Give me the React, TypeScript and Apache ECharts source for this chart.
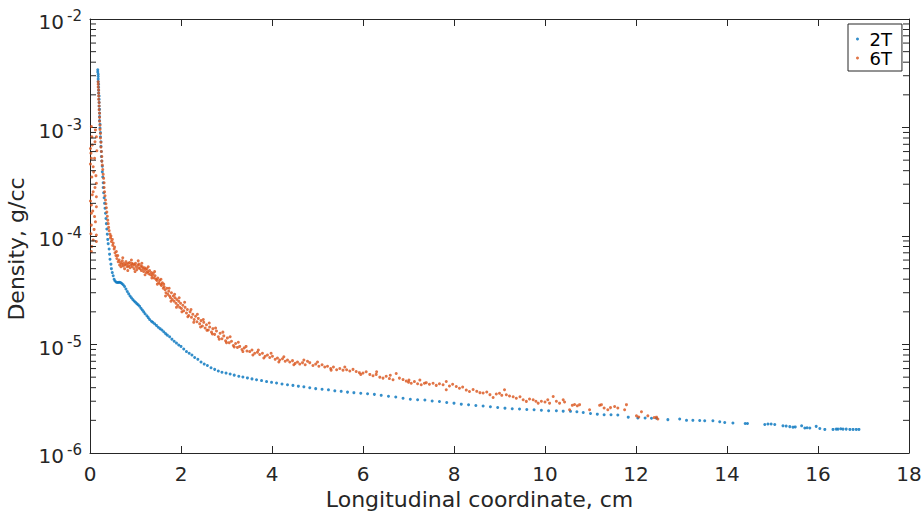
import React, { useEffect, useRef } from "react";
import * as echarts from "echarts";

const seriesNames = ["2T", "6T"];
const seriesColors = ["#0072BD", "#D95319"];
const xTitle = "Longitudinal coordinate, cm";
const yTitle = "Density, g/cc";
const xMin = 0;
const xMax = 18;
const xStep = 2;
const yMin = 1e-6;
const yMax = 1e-2;

const minorTickValues = [
  2e-6, 3e-6, 4e-6, 5e-6, 6e-6, 7e-6, 8e-6, 9e-6,
  2e-5, 3e-5, 4e-5, 5e-5, 6e-5, 7e-5, 8e-5, 9e-5,
  2e-4, 3e-4, 4e-4, 5e-4, 6e-4, 7e-4, 8e-4, 9e-4,
  2e-3, 3e-3, 4e-3, 5e-3, 6e-3, 7e-3, 8e-3, 9e-3,
];

// 2T: [longitudinal coordinate (cm), density (g/cc)]
const density2T: [number, number][] = [
  [0.17,3.40e-3],[0.17,3.25e-3],[0.18,3.10e-3],[0.18,2.95e-3],[0.18,2.80e-3],[0.18,2.65e-3],[0.19,2.50e-3],[0.19,2.35e-3],
  [0.19,2.20e-3],[0.19,2.07e-3],[0.20,1.95e-3],[0.20,1.82e-3],[0.20,1.70e-3],[0.20,1.58e-3],[0.21,1.47e-3],[0.21,1.36e-3],
  [0.21,1.26e-3],[0.21,1.16e-3],[0.22,1.07e-3],[0.22,9.9e-4],[0.23,9.0e-4],[0.23,8.2e-4],[0.24,7.4e-4],[0.24,6.7e-4],
  [0.25,6.0e-4],[0.25,5.4e-4],[0.26,4.9e-4],[0.27,4.4e-4],[0.27,3.9e-4],[0.28,3.5e-4],[0.29,3.1e-4],[0.29,2.8e-4],
  [0.30,2.5e-4],[0.31,2.25e-4],[0.32,2.0e-4],[0.33,1.8e-4],[0.34,1.62e-4],[0.35,1.45e-4],[0.36,1.30e-4],[0.37,1.16e-4],
  [0.38,1.04e-4],[0.39,9.3e-5],[0.40,8.5e-5],[0.42,7.6e-5],[0.43,6.8e-5],[0.44,6.1e-5],[0.46,5.5e-5],[0.47,5.0e-5],
  [0.49,4.6e-5],[0.51,4.3e-5],[0.53,4.0e-5],[0.55,3.85e-5],[0.58,3.75e-5],[0.61,3.72e-5],[0.64,3.75e-5],[0.67,3.72e-5],
  [0.70,3.65e-5],[0.73,3.55e-5],[0.76,3.42e-5],[0.79,3.25e-5],[0.82,3.08e-5],[0.85,2.93e-5],[0.88,2.80e-5],[0.91,2.70e-5],
  [0.94,2.60e-5],[0.97,2.52e-5],[1.00,2.45e-5],[1.03,2.38e-5],[1.06,2.32e-5],[1.09,2.25e-5],[1.12,2.16e-5],[1.15,2.08e-5],
  [1.18,2.00e-5],[1.21,1.92e-5],[1.25,1.84e-5],[1.28,1.77e-5],[1.31,1.70e-5],[1.35,1.64e-5],[1.38,1.60e-5],[1.42,1.55e-5],
  [1.46,1.50e-5],[1.50,1.44e-5],[1.54,1.40e-5],[1.58,1.36e-5],[1.62,1.31e-5],[1.66,1.26e-5],[1.70,1.22e-5],[1.75,1.18e-5],
  [1.80,1.12e-5],[1.85,1.07e-5],[1.90,1.03e-5],[1.95,9.9e-6],[2.00,9.6e-6],[2.06,9.1e-6],[2.12,8.6e-6],[2.18,8.3e-6],
  [2.24,8.0e-6],[2.30,7.6e-6],[2.37,7.3e-6],[2.44,6.9e-6],[2.51,6.6e-6],[2.58,6.4e-6],[2.66,6.1e-6],[2.74,5.9e-6],
  [2.82,5.7e-6],[2.90,5.55e-6],[2.99,5.45e-6],[3.08,5.35e-6],[3.17,5.22e-6],[3.27,5.10e-6],[3.36,5.02e-6],[3.46,4.92e-6],
  [3.56,4.82e-6],[3.66,4.74e-6],[3.77,4.65e-6],[3.88,4.55e-6],[3.99,4.48e-6],[4.10,4.42e-6],[4.22,4.33e-6],[4.34,4.26e-6],
  [4.46,4.20e-6],[4.58,4.13e-6],[4.70,4.07e-6],[4.83,4.00e-6],[4.96,3.92e-6],[5.10,3.87e-6],[5.24,3.82e-6],[5.38,3.74e-6],
  [5.52,3.70e-6],[5.66,3.64e-6],[5.80,3.60e-6],[5.95,3.55e-6],[6.10,3.52e-6],[6.25,3.47e-6],[6.40,3.40e-6],[6.56,3.33e-6],
  [6.72,3.28e-6],[6.88,3.20e-6],[7.04,3.13e-6],[7.20,3.10e-6],[7.36,3.08e-6],[7.52,3.01e-6],[7.68,2.98e-6],[7.84,2.92e-6],
  [8.00,2.88e-6],[8.16,2.82e-6],[8.32,2.78e-6],[8.48,2.74e-6],[8.64,2.71e-6],[8.80,2.67e-6],[8.96,2.63e-6],[9.12,2.59e-6],
  [9.28,2.56e-6],[9.44,2.54e-6],[9.60,2.52e-6],[9.76,2.50e-6],[9.92,2.48e-6],[10.08,2.45e-6],[10.25,2.45e-6],[10.40,2.43e-6],
  [10.56,2.42e-6],[10.70,2.40e-6],[10.84,2.36e-6],[11.00,2.31e-6],[11.15,2.28e-6],[11.30,2.25e-6],[11.45,2.25e-6],[11.60,2.24e-6],
  [11.83,2.14e-6],[12.04,2.10e-6],[12.20,2.10e-6],[12.34,2.09e-6],[12.45,2.09e-6],[12.70,2.03e-6],[12.96,2.06e-6],[13.11,2.00e-6],
  [13.25,2.00e-6],[13.40,1.99e-6],[13.51,1.98e-6],[13.69,1.98e-6],[13.84,1.94e-6],[13.95,1.91e-6],[14.13,1.89e-6],[14.40,1.87e-6],
  [14.45,1.87e-6],[14.83,1.83e-6],[14.90,1.85e-6],[14.97,1.85e-6],[15.05,1.83e-6],[15.23,1.78e-6],[15.30,1.77e-6],[15.38,1.75e-6],
  [15.45,1.73e-6],[15.50,1.74e-6],[15.64,1.78e-6],[15.71,1.70e-6],[15.76,1.71e-6],[15.82,1.70e-6],[15.96,1.76e-6],[16.04,1.68e-6],
  [16.15,1.65e-6],[16.33,1.65e-6],[16.40,1.66e-6],[16.44,1.66e-6],[16.50,1.67e-6],[16.55,1.66e-6],[16.62,1.66e-6],[16.70,1.65e-6],
  [16.77,1.65e-6],[16.84,1.65e-6],[16.90,1.65e-6],
];

// 6T: [longitudinal coordinate (cm), density (g/cc)]
const density6T: [number, number][] = [
  [0.01,6.4e-4],[0.03,1.02e-3],[0.04,8.2e-4],[0.03,5.2e-4],[0.10,5.2e-4],[0.14,8.2e-4],[0.12,9.5e-4],[0.07,4.35e-4],
  [0.04,3.5e-4],[0.14,3.06e-4],[0.07,2.56e-4],[0.14,2.3e-4],[0.03,1.93e-4],[0.14,1.86e-4],[0.03,1.62e-4],[0.10,1.51e-4],
  [0.03,1.26e-4],[0.14,1.02e-4],[0.07,9.2e-5],[0.14,8.9e-5],[0.03,7.2e-5],[0.04,8.0e-5],[0.02,5.8e-4],[0.05,6.9e-4],
  [0.08,3.9e-4],[0.11,2.8e-4],[0.01,2.1e-4],[0.06,1.7e-4],[0.12,1.35e-4],[0.02,1.05e-4],[0.09,1.15e-4],[0.13,3.6e-4],
  [0.01,4.6e-4],[0.05,2.4e-4],[0.15,6.1e-4],[0.11,7.4e-4],
  [0.18,2.64e-3],[0.18,2.50e-3],[0.18,2.36e-3],[0.19,2.22e-3],[0.19,2.08e-3],[0.19,1.95e-3],[0.19,1.82e-3],[0.20,1.70e-3],
  [0.20,1.58e-3],[0.20,1.46e-3],[0.21,1.35e-3],[0.21,1.24e-3],[0.21,1.14e-3],[0.22,1.05e-3],[0.22,9.6e-4],[0.23,8.8e-4],
  [0.23,8.0e-4],[0.24,7.3e-4],[0.24,6.6e-4],[0.25,6.0e-4],[0.26,5.4e-4],[0.26,4.9e-4],[0.27,4.5e-4],[0.28,4.1e-4],
  [0.29,3.7e-4],[0.30,3.4e-4],[0.31,3.1e-4],[0.31,2.8e-4],[0.32,2.55e-4],[0.33,2.35e-4],[0.34,2.15e-4],[0.35,1.98e-4],
  [0.36,1.82e-4],[0.37,1.66e-4],[0.38,1.52e-4],[0.39,1.40e-4],[0.40,1.30e-4],[0.41,1.20e-4],[0.42,1.12e-4],[0.44,1.04e-4],
  [0.45,9.6e-5],[0.46,1.0e-4],[0.47,8.9e-5],[0.49,9.3e-5],[0.50,8.2e-5],[0.51,8.6e-5],[0.53,7.6e-5],[0.54,7.9e-5],
  [0.55,7.0e-5],[0.57,6.6e-5],[0.58,7.2e-5],[0.59,6.2e-5],[0.61,6.6e-5],[0.62,5.8e-5],[0.64,6.0e-5],[0.65,5.4e-5],
  [0.67,5.7e-5],[0.68,5.2e-5],[0.70,5.5e-5],[0.71,5.9e-5],[0.73,5.3e-5],[0.74,5.6e-5],[0.76,5.0e-5],[0.77,5.4e-5],
  [0.79,5.8e-5],[0.80,5.5e-5],[0.82,5.2e-5],[0.84,5.6e-5],[0.85,5.3e-5],[0.87,5.7e-5],[0.88,5.1e-5],[0.90,5.4e-5],
  [0.92,5.6e-5],[0.93,5.2e-5],[0.95,5.5e-5],[0.97,5.0e-5],[0.98,5.4e-5],[1.00,5.6e-5],[1.02,5.2e-5],[1.03,4.9e-5],
  [1.05,5.4e-5],[1.07,5.1e-5],[1.08,5.5e-5],[1.10,5.0e-5],[1.12,5.3e-5],[1.13,4.8e-5],[1.15,5.2e-5],[1.17,5.0e-5],
  [1.18,4.7e-5],[1.20,5.1e-5],[1.22,4.9e-5],[1.24,4.6e-5],[1.25,5.0e-5],[1.27,4.7e-5],[1.29,4.5e-5],[1.31,4.8e-5],
  [1.33,4.4e-5],[1.35,4.6e-5],[1.37,4.3e-5],[1.39,4.5e-5],[1.41,4.1e-5],[1.43,4.3e-5],[1.45,4.0e-5],[1.47,3.9e-5],
  [1.49,4.1e-5],[1.51,3.7e-5],[1.53,3.9e-5],[1.55,3.6e-5],[1.57,3.5e-5],[1.59,3.7e-5],[1.61,3.3e-5],[1.63,3.4e-5],
  [1.65,3.2e-5],[1.67,3.0e-5],[1.69,3.3e-5],[1.71,2.9e-5],[1.73,3.1e-5],[1.75,2.8e-5],[1.77,2.7e-5],[1.79,3.0e-5],
  [1.81,2.6e-5],[1.83,2.8e-5],[1.85,2.5e-5],[1.87,2.7e-5],[1.89,2.4e-5],[1.91,2.6e-5],[1.93,2.3e-5],[1.95,2.5e-5],
  [1.97,2.2e-5],[1.99,2.4e-5],[2.01,2.15e-5],[2.04,2.3e-5],[2.06,2.05e-5],[2.09,2.2e-5],[2.12,1.95e-5],[2.14,2.1e-5],
  [2.17,1.85e-5],[2.20,2.0e-5],[2.23,1.78e-5],[2.26,1.9e-5],[2.29,1.7e-5],[2.32,1.82e-5],[2.35,1.62e-5],[2.38,1.74e-5],
  [2.41,1.55e-5],[2.44,1.66e-5],[2.47,1.48e-5],[2.50,1.6e-5],[2.53,1.42e-5],[2.56,1.52e-5],[2.60,1.36e-5],[2.63,1.45e-5],
  [2.67,1.3e-5],[2.70,1.4e-5],[2.74,1.24e-5],[2.78,1.33e-5],[2.82,1.18e-5],[2.86,1.27e-5],[2.90,1.13e-5],[2.94,1.2e-5],
  [2.98,1.08e-5],[3.02,1.15e-5],[3.06,1.04e-5],[3.11,1.07e-5],[3.15,9.8e-6],[3.20,1.02e-5],[3.24,9.4e-6],[3.29,9.6e-6],
  [3.34,9.0e-6],[3.39,9.3e-6],[3.45,8.7e-6],[3.51,8.6e-6],[3.56,8.9e-6],[3.62,8.3e-6],[3.68,8.5e-6],[3.73,8.1e-6],
  [3.79,8.3e-6],[3.85,7.8e-6],[3.90,8.0e-6],[3.95,7.6e-6],[4.01,7.8e-6],[4.07,7.3e-6],[4.12,7.5e-6],[4.17,7.2e-6],
  [4.23,7.4e-6],[4.29,7.0e-6],[4.34,7.2e-6],[4.39,6.9e-6],[4.45,7.1e-6],[4.51,6.7e-6],[4.56,6.9e-6],[4.61,6.6e-6],
  [4.67,6.8e-6],[4.73,6.5e-6],[4.78,7.0e-6],[4.83,6.8e-6],[4.90,6.4e-6],[4.96,6.6e-6],[5.03,6.3e-6],[5.10,6.5e-6],
  [5.16,6.2e-6],[5.22,6.3e-6],[5.29,6.0e-6],[5.35,6.2e-6],[5.42,5.85e-6],[5.49,6.0e-6],[5.56,5.8e-6],[5.64,5.85e-6],
  [5.71,5.7e-6],[5.78,5.9e-6],[5.85,5.64e-6],[5.92,5.5e-6],[6.00,5.45e-6],[6.07,5.6e-6],[6.15,5.3e-6],[6.22,5.15e-6],
  [6.29,5.3e-6],[6.37,5.0e-6],[6.44,4.9e-6],[6.51,5.1e-6],[6.58,4.85e-6],[6.66,4.73e-6],[6.73,5.4e-6],[6.80,4.9e-6],
  [6.88,4.75e-6],[6.95,4.6e-6],[7.01,4.7e-6],[7.06,4.4e-6],[7.13,4.55e-6],[7.20,4.35e-6],[7.28,4.25e-6],[7.35,4.4e-6],
  [7.39,4.45e-6],[7.46,4.3e-6],[7.54,4.4e-6],[7.61,4.2e-6],[7.68,4.35e-6],[7.76,4.25e-6],[7.83,4.56e-6],[7.83,3.83e-6],
  [7.90,4.15e-6],[7.97,4.3e-6],[8.05,4.1e-6],[8.12,3.95e-6],[8.19,4.05e-6],[8.27,3.8e-6],[8.34,3.69e-6],[8.42,3.85e-6],
  [8.50,3.7e-6],[8.57,3.6e-6],[8.64,3.57e-6],[8.72,3.65e-6],[8.79,3.45e-6],[8.86,3.25e-6],[8.93,3.5e-6],[9.00,3.55e-6],
  [9.05,3.4e-6],[9.11,3.83e-6],[9.15,3.44e-6],[9.22,3.35e-6],[9.30,3.3e-6],[9.37,3.2e-6],[9.45,3.3e-6],[9.52,3.1e-6],
  [9.59,2.99e-6],[9.66,3.15e-6],[9.74,3.1e-6],[9.80,3.0e-6],[9.85,2.88e-6],[9.92,3.0e-6],[10.00,2.95e-6],[10.06,3.1e-6],
  [10.10,2.88e-6],[10.18,3.32e-6],[10.25,3.0e-6],[10.32,2.88e-6],[10.40,3.1e-6],[10.43,2.95e-6],[10.54,2.5e-6],[10.60,2.75e-6],
  [10.65,2.8e-6],[10.71,2.72e-6],[10.76,2.79e-6],[10.98,2.5e-6],[11.20,2.75e-6],[11.24,2.79e-6],[11.30,2.6e-6],[11.38,2.5e-6],
  [11.44,2.62e-6],[11.53,2.68e-6],[11.60,2.6e-6],[11.75,2.5e-6],[11.79,2.79e-6],[12.01,2.2e-6],[12.06,2.15e-6],[12.12,2.4e-6],
  [12.26,2.2e-6],[12.40,2.12e-6],[12.45,2.14e-6],[12.48,2.06e-6],
  [0.72,6.3e-5],[0.83,4.8e-5],[0.91,6.0e-5],[0.99,4.7e-5],[1.06,5.9e-5],[1.14,5.6e-5],[1.21,4.4e-5],[1.28,5.2e-5],
  [1.36,4.1e-5],[1.42,4.7e-5],[1.48,3.6e-5],[1.56,4.0e-5],[1.62,3.6e-5],[1.66,2.8e-5],[1.74,3.3e-5],[1.78,2.5e-5],
  [1.86,2.9e-5],[1.90,2.2e-5],[1.96,2.7e-5],[2.02,2.0e-5],[2.08,2.45e-5],[2.15,1.8e-5],[2.22,2.1e-5],[2.28,1.6e-5],
  [2.36,1.9e-5],[2.43,1.45e-5],[2.49,1.7e-5],[2.57,1.35e-5],[2.62,1.58e-5],[2.69,1.25e-5],[2.76,1.42e-5],[2.84,1.12e-5],
  [2.92,1.3e-5],[3.00,1.04e-5],[3.08,1.18e-5],[3.17,9.5e-6],[3.26,1.05e-5],[3.36,8.6e-6],[3.43,9.6e-6],[3.58,8.0e-6],
  [3.70,8.9e-6],[3.82,7.5e-6],[3.98,8.3e-6],[4.15,6.9e-6],[4.26,7.7e-6],[4.48,6.5e-6],[4.70,7.2e-6],[5.00,6.9e-6],
  [5.30,5.8e-6],[5.60,6.2e-6],[5.95,5.3e-6],[6.30,5.6e-6],[6.60,5.2e-6],[7.00,4.5e-6],[7.25,4.7e-6],
];

const AXIS = "#262626";
const FONT = "DejaVu Sans";

export default function App() {
  const ref = useRef<HTMLDivElement>(null);
  useEffect(() => {
    if (!ref.current) return;
    const chart = echarts.init(ref.current, null, { renderer: "svg" });
    const lineStyle = { color: AXIS, width: 1 };
    const xCommon = {
      type: "value",
      min: xMin,
      max: xMax,
      interval: xStep,
      splitLine: { show: false },
      axisLine: { show: true, onZero: false, lineStyle },
      axisTick: { show: true, inside: true, length: 7, lineStyle },
    };
    const yCommon = {
      type: "log",
      logBase: 10,
      min: yMin,
      max: yMax,
      splitNumber: 4,
      splitLine: { show: false },
      axisLine: { show: true, onZero: false, lineStyle },
      axisTick: { show: true, inside: true, length: 7, lineStyle },
    };
    chart.setOption({
      animation: false,
      backgroundColor: "#ffffff",
      grid: {
        left: 90,
        right: 13,
        top: 19,
        bottom: 59,
        containLabel: false,
        outerBoundsMode: "none",
      },
      legend: {
        data: seriesNames.map((n) => ({ name: n, icon: "circle" })),
        orient: "vertical",
        left: 848,
        top: 24,
        padding: [6, 10, 4, 8],
        itemWidth: 14,
        itemHeight: 3,
        itemGap: 1,
        symbolKeepAspect: true,
        borderColor: AXIS,
        borderWidth: 1,
        borderRadius: 0,
        backgroundColor: "#ffffff",
        textStyle: { fontFamily: FONT, fontSize: 18, color: "#000000" },
      },
      xAxis: [
        {
          ...xCommon,
          position: "bottom",
          name: xTitle,
          nameLocation: "middle",
          nameGap: 35,
          nameTextStyle: { fontFamily: FONT, fontSize: 22, color: AXIS, padding: [0, 40, 0, 0] },
          axisLabel: { fontFamily: FONT, fontSize: 20, color: AXIS, margin: 11 },
        },
        {
          ...xCommon,
          position: "top",
          axisLabel: { show: false },
        },
      ],
      yAxis: [
        {
          ...yCommon,
          position: "left",
          name: yTitle,
          nameLocation: "middle",
          nameGap: 54,
          nameRotate: 90,
          nameTextStyle: { fontFamily: FONT, fontSize: 22, color: AXIS, padding: [0, 26, 0, 0] },
          axisLabel: {
            margin: 8,
            padding: [6, 0, 0, 0],
            color: AXIS,
            formatter: (v: number) => `{b|10}{s|${Math.round(Math.log10(v))}}`,
            rich: {
              b: { fontFamily: FONT, fontSize: 20, color: AXIS },
              s: { fontFamily: FONT, fontSize: 15, color: AXIS, padding: [0, 0, 12, 3] },
            },
          },
        },
        {
          ...yCommon,
          position: "right",
          axisLabel: { show: false },
        },
      ],
      series: [
        {
          type: "scatter",
          name: seriesNames[0],
          data: density2T,
          symbol: "circle",
          symbolSize: 3,
          itemStyle: { color: seriesColors[0] },
          xAxisIndex: 0,
          yAxisIndex: 0,
        },
        {
          type: "scatter",
          name: seriesNames[1],
          data: density6T,
          symbol: "circle",
          symbolSize: 3,
          itemStyle: { color: seriesColors[1] },
          xAxisIndex: 0,
          yAxisIndex: 0,
        },
        {
          type: "custom",
          silent: true,
          xAxisIndex: 0,
          yAxisIndex: 0,
          z: 5,
          data: minorTickValues.map((v) => [xMin, v]),
          renderItem: (params: any, api: any) => {
            const cs = params.coordSys;
            const y = api.coord([xMin, api.value(1)])[1];
            const x0 = cs.x;
            const x1 = cs.x + cs.width;
            const st = { stroke: AXIS, lineWidth: 1 };
            return {
              type: "group",
              children: [
                { type: "line", shape: { x1: x0, y1: y, x2: x0 + 6, y2: y }, style: st },
                { type: "line", shape: { x1: x1 - 6, y1: y, x2: x1, y2: y }, style: st },
              ],
            };
          },
        },
      ],
    });
    return () => chart.dispose();
  }, []);
  return (
    <div
      ref={ref}
      style={{ position: "fixed", left: 0, top: 0, width: 922, height: 512, background: "#fff" }}
    />
  );
}
